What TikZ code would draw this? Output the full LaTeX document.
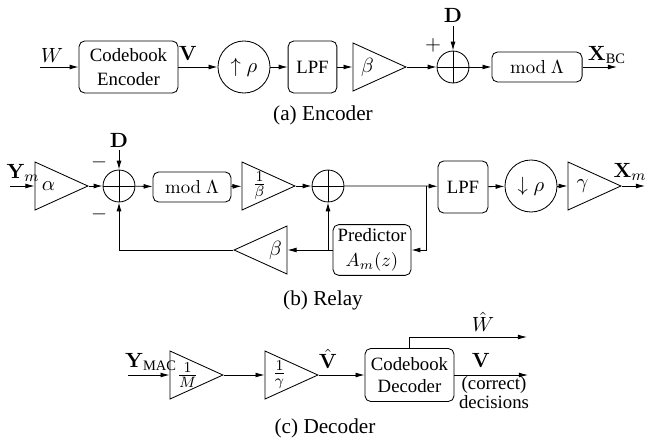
\documentclass[tikz,border=0pt]{standalone}
\usepackage{amsmath}
\usepackage[no-math]{fontspec}
\setmainfont{Liberation Serif}
\usetikzlibrary{arrows.meta,shapes.geometric,calc}

\begin{document}
\begin{tikzpicture}[x=0.5325pt,y=-0.5325pt,>={Latex[length=4.8pt,width=2.6pt]},line width=0.45pt,
  font=\fontsize{11}{13}\selectfont,
  blk/.style={draw,rounded corners=3pt,inner sep=0pt,align=center,font=\fontsize{10}{13}\selectfont},
  amp/.style={draw,isosceles triangle,isosceles triangle stretches,inner sep=0pt,minimum width=25.6pt,minimum height=28.2pt},
  ampl/.style={amp,shape border rotate=180},
  rate/.style={draw,circle,minimum size=27.7pt,inner sep=0pt},
  summer/.style={draw,circle,minimum size=17pt,inner sep=0pt,path picture={\draw (path picture bounding box.north) -- (path picture bounding box.south) (path picture bounding box.west) -- (path picture bounding box.east);}},
  capt/.style={font=\fontsize{11.3}{13}\selectfont}]
\useasboundingbox (0,0) rectangle (649,446);

% (a) encoder
\coordinate (w) at (40,67);
\node[blk,minimum width=52.7pt,minimum height=27.7pt] (cenc) at (128.5,67) {Codebook\\Encoder};
\node[rate] (up) at (244,67) {$\uparrow\rho$};
\node[blk,minimum width=26pt,minimum height=27.7pt] (lpfa) at (312.5,67) {LPF};
\node[amp,anchor=apex] (ba) at (407,67) {};
\node[summer] (sa) at (453,67) {};
\node[blk,minimum width=48pt,minimum height=16pt] (moda) at (537,67) {$\mathrm{mod}\ \Lambda$};
\coordinate (xbc) at (617,67);
\coordinate (da) at (453,26);

\draw[->] (w) -- (cenc);
\draw[->] (cenc) -- (up);
\draw[->] (up) -- (lpfa);
\draw[->] (lpfa) -- (ba);
\draw[->] (ba) -- (sa);
\draw[->] (sa) -- (moda);
\draw[->] (moda) -- (xbc);
\draw[->] (da) -- (sa);

\node at ($(ba.west)+(15,0)$) {$\beta$};
\node at (52,55) {$W$};
\node at (188,53) {$\mathbf{V}$};
\node at (453,15) {$\mathbf{D}$};
\node at (433,45) {$+$};
\node at (607,55) {$\mathbf{X}_{\text{BC}}$};
\node[capt] at (323,115) {(a) Encoder};

% (b) relay
\coordinate (ym) at (10,186);
\node[amp,anchor=apex] (al) at (89,186) {};
\node[summer] (sb) at (119,186) {};
\node[blk,minimum width=41.5pt,minimum height=16pt] (modb) at (192,187) {$\mathrm{mod}\ \Lambda$};
\node[amp,anchor=apex] (ib) at (296,186) {};
\node[summer] (sc) at (328,186) {};
\coordinate (br) at (426,186);
\node[blk,minimum width=26.6pt,minimum height=27.7pt] (lpfb) at (463,187) {LPF};
\node[rate] (dn) at (531,186) {$\downarrow\rho$};
\node[amp,anchor=apex] (ga) at (622,186) {};
\coordinate (xm) at (645,186);
\node[blk,minimum width=41.5pt,minimum height=27pt] (pred) at (372,250) {Predictor\\$A_m(z)$};
\node[ampl,anchor=apex] (bb) at (233,250) {};
\coordinate (db) at (119,150);

\draw[->] (ym) -- (al);
\draw[->] (al) -- (sb);
\draw[->] (sb) -- (modb);
\draw[->] (modb) -- (ib);
\draw[->] (ib) -- (sc);
\draw[->] (sc) -- (br) -- (lpfb);
\draw[->] (lpfb) -- (dn);
\draw[->] (dn) -- (ga);
\draw[->] (ga) -- (xm);
\draw[->] (db) -- (sb);
\draw[->] (br) |- (pred);
\draw[->] (pred) -- (bb);
\draw[->] (sc |- pred) -- (sc);
\draw[->] (bb) -| (sb);

\node at ($(al.west)+(14,0)$) {$\alpha$};
\node at ($(ib.west)+(18,0)$) {$\frac{1}{\beta}$};
\node at ($(ga.west)+(15,0)$) {$\gamma$};
\node at ($(bb.east)+(-12,0)$) {$\beta$};
\node at (23,173) {$\mathbf{Y}_m$};
\node at (119,140) {$\mathbf{D}$};
\node at (99,162) {$-$};
\node at (99,214) {$-$};
\node at (630,172) {$\mathbf{X}_m$};
\node[capt] at (323,300) {(b) Relay};

% (c) decoder
\coordinate (ymac) at (128,375);
\node[amp,anchor=apex] (im) at (224,375) {};
\node[amp,anchor=apex] (ig) at (319,375) {};
\node[blk,minimum width=47.4pt,minimum height=28.2pt,font=\fontsize{10}{12}\selectfont] (cdec) at (409.5,375) {Codebook\\Decoder};
\coordinate (what) at (527,337);
\coordinate (vout) at (528,375);

\draw[->] (ymac) -- (im);
\draw[->] (im) -- (ig);
\draw[->] (ig) -- (cdec);
\draw[->] (cdec) -- (vout);
\draw[->] (cdec.north) |- (what);

\node at ($(im.west)+(18,0)$) {$\frac{1}{M}$};
\node at ($(ig.west)+(15,0)$) {$\frac{1}{\gamma}$};
\node at (151,362) {$\mathbf{Y}_{\text{MAC}}$};
\node at (328,359) {$\hat{\mathbf{V}}$};
\node at (483,322) {$\hat{W}$};
\node at (481,360) {$\mathbf{V}$};
\node[align=center,inner sep=0pt,font=\fontsize{10}{7}\selectfont] at (494,393) {(correct)\\decisions};
\node[capt] at (325,428) {(c) Decoder};
\end{tikzpicture}
\end{document}
